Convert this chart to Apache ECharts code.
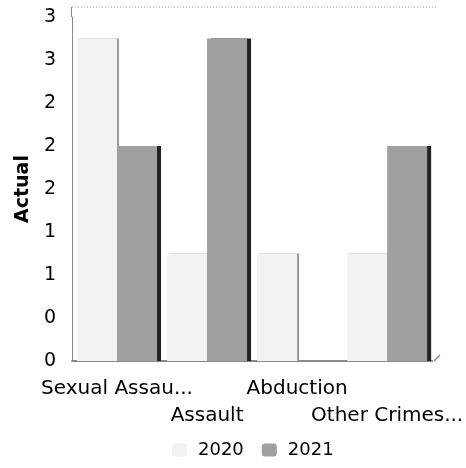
<!DOCTYPE html>
<html>
<head>
<meta charset="utf-8">
<script src="https://cdn.jsdelivr.net/npm/echarts@6/dist/echarts.min.js"></script>
<style>html,body{margin:0;padding:0;background:#fff}#c{width:466px;height:468px}</style>
</head>
<body>
<div id="c"></div>
<script>
const categories = ['Sexual Assau...', 'Assault', 'Abduction', 'Other Crimes...'];
const seriesNames = ['2020', '2021'];
const values2020 = [3, 1, 1, 1];
const values2021 = [2, 3, 0, 2];
const yTickValues = [0, 0.4, 0.8, 1.2, 1.6, 2.0, 2.4, 2.8, 3.2];

const FONT = 'DejaVu Sans';
const chart = echarts.init(document.getElementById('c'), null, {renderer: 'canvas'});
chart.setOption({
  animation: false,
  backgroundColor: '#fff',
  grid: {left: 72, right: 32, top: 17, bottom: 107},
  legend: {
    data: seriesNames,
    bottom: 4,
    left: 167,
    itemWidth: 15,
    itemHeight: 13,
    itemGap: 18,
    textStyle: {fontFamily: FONT, fontSize: 18, color: '#000', padding: [0, 0, 0, 6]}
  },
  graphic: [
    {type: 'line', shape: {x1: 72, y1: 7, x2: 436, y2: 7}, style: {stroke: '#999', lineWidth: 1, lineDash: [1, 2]}, silent: true},
    {type: 'line', shape: {x1: 71.5, y1: 7, x2: 71.5, y2: 17}, style: {stroke: '#888', lineWidth: 1}, silent: true},
    {type: 'line', shape: {x1: 434, y1: 361, x2: 440, y2: 355}, style: {stroke: '#888', lineWidth: 1.5}, silent: true}
  ],
  xAxis: {
    type: 'category',
    data: categories,
    axisLine: {lineStyle: {color: '#888', width: 2}},
    axisTick: {show: false},
    axisLabel: {
      interval: 0,
      margin: 14,
      fontFamily: FONT, fontSize: 20, color: '#000', lineHeight: 27,
      formatter: (v, i) => (i % 2 === 1 ? '\n' + v : v)
    }
  },
  yAxis: {
    type: 'value',
    min: yTickValues[0],
    max: yTickValues[yTickValues.length - 1],
    interval: 0.4,
    name: 'Actual',
    nameLocation: 'middle',
    nameGap: 37,
    nameTextStyle: {fontFamily: FONT, fontSize: 19, fontWeight: 'bold', color: '#000'},
    axisLine: {show: true, lineStyle: {color: '#888', width: 1}},
    axisTick: {show: false},
    axisLabel: {
      margin: 16,
      fontFamily: FONT, fontSize: 19, color: '#000',
      formatter: v => String(Math.round(v))
    },
    splitLine: {show: false}
  },
  series: [
    {
      name: seriesNames[0], type: 'bar', data: values2020,
      barWidth: 40, barGap: '0%',
      itemStyle: {color: '#f2f2f2', shadowColor: '#999', shadowOffsetX: 2, shadowBlur: 0}
    },
    {
      name: seriesNames[1], type: 'bar', data: values2021,
      barWidth: 40,
      itemStyle: {color: '#a0a0a0', shadowColor: '#222', shadowOffsetX: 4, shadowBlur: 0}
    }
  ]
});
</script>
</body>
</html>
